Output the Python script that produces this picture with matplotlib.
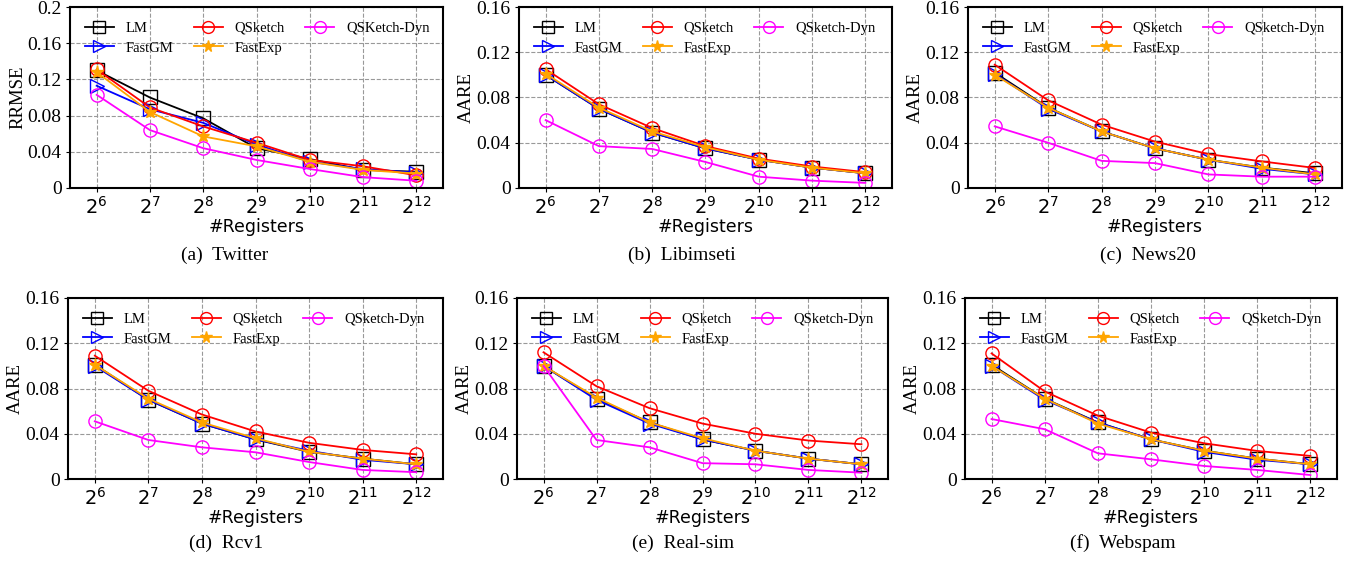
import numpy as np
import matplotlib
matplotlib.use('Agg')
import matplotlib.pyplot as plt
from matplotlib.ticker import FuncFormatter

plt.rcParams['font.family'] = ['Liberation Serif', 'DejaVu Serif']
plt.rcParams['mathtext.fontset'] = 'dejavusans'

# --- data ---
registers = [6, 7, 8, 9, 10, 11, 12]   # log2 of #registers
xtick_labels = ['$2^{%d}$' % r for r in registers]

methods = ['LM', 'FastGM', 'QSketch', 'FastExp', 'QSketch-Dyn']
dataset_names = ['Twitter', 'Libimseti', 'News20', 'Rcv1', 'Real-sim', 'Webspam']
captions = ['(a)  Twitter', '(b)  Libimseti', '(c)  News20',
            '(d)  Rcv1', '(e)  Real-sim', '(f)  Webspam']
ylabels = ['RRMSE', 'AARE', 'AARE', 'AARE', 'AARE', 'AARE']
ymax = [0.2, 0.16, 0.16, 0.16, 0.16, 0.16]

twitter_lm      = [0.130, 0.100, 0.077, 0.044, 0.032, 0.020, 0.018]
twitter_fastgm  = [0.113, 0.087, 0.072, 0.048, 0.029, 0.021, 0.017]
twitter_qsketch = [0.131, 0.089, 0.068, 0.050, 0.031, 0.024, 0.014]
twitter_fastexp = [0.128, 0.084, 0.057, 0.046, 0.029, 0.020, 0.016]
twitter_dyn     = [0.103, 0.064, 0.044, 0.031, 0.021, 0.012, 0.008]

libim_lm      = [0.100, 0.070, 0.049, 0.035, 0.025, 0.018, 0.013]
libim_fastgm  = [0.100, 0.070, 0.049, 0.035, 0.025, 0.018, 0.013]
libim_qsketch = [0.105, 0.074, 0.053, 0.037, 0.026, 0.019, 0.014]
libim_fastexp = [0.101, 0.071, 0.050, 0.036, 0.025, 0.018, 0.013]
libim_dyn     = [0.060, 0.037, 0.0345, 0.023, 0.010, 0.0065, 0.0045]

news_lm      = [0.102, 0.071, 0.050, 0.035, 0.025, 0.018, 0.013]
news_fastgm  = [0.101, 0.070, 0.050, 0.035, 0.025, 0.017, 0.012]
news_qsketch = [0.109, 0.0775, 0.056, 0.041, 0.030, 0.0235, 0.0177]
news_fastexp = [0.100, 0.071, 0.050, 0.035, 0.025, 0.018, 0.012]
news_dyn     = [0.0545, 0.040, 0.024, 0.022, 0.012, 0.010, 0.010]

rcv_lm      = [0.101, 0.070, 0.049, 0.035, 0.024, 0.018, 0.013]
rcv_fastgm  = [0.100, 0.070, 0.049, 0.035, 0.025, 0.017, 0.013]
rcv_qsketch = [0.109, 0.078, 0.057, 0.042, 0.032, 0.0257, 0.0218]
rcv_fastexp = [0.101, 0.071, 0.050, 0.036, 0.024, 0.018, 0.013]
rcv_dyn     = [0.051, 0.0345, 0.028, 0.0236, 0.015, 0.008, 0.006]

realsim_lm      = [0.100, 0.071, 0.050, 0.035, 0.025, 0.018, 0.013]
realsim_fastgm  = [0.100, 0.070, 0.049, 0.035, 0.025, 0.018, 0.013]
realsim_qsketch = [0.112, 0.082, 0.0626, 0.049, 0.040, 0.034, 0.0307]
realsim_fastexp = [0.100, 0.072, 0.050, 0.036, 0.025, 0.018, 0.013]
realsim_dyn     = [0.100, 0.0345, 0.028, 0.014, 0.013, 0.008, 0.0056]

webspam_lm      = [0.101, 0.071, 0.050, 0.035, 0.025, 0.018, 0.013]
webspam_fastgm  = [0.100, 0.070, 0.050, 0.035, 0.024, 0.017, 0.013]
webspam_qsketch = [0.111, 0.0774, 0.056, 0.041, 0.0316, 0.0248, 0.0204]
webspam_fastexp = [0.100, 0.071, 0.049, 0.035, 0.025, 0.018, 0.013]
webspam_dyn     = [0.053, 0.044, 0.0227, 0.0174, 0.0115, 0.008, 0.0035]

all_data = [
    [twitter_lm, twitter_fastgm, twitter_qsketch, twitter_fastexp, twitter_dyn],
    [libim_lm, libim_fastgm, libim_qsketch, libim_fastexp, libim_dyn],
    [news_lm, news_fastgm, news_qsketch, news_fastexp, news_dyn],
    [rcv_lm, rcv_fastgm, rcv_qsketch, rcv_fastexp, rcv_dyn],
    [realsim_lm, realsim_fastgm, realsim_qsketch, realsim_fastexp, realsim_dyn],
    [webspam_lm, webspam_fastgm, webspam_qsketch, webspam_fastexp, webspam_dyn],
]

# --- styles ---
styles = [
    dict(color='black', marker='s', mfc='none', ms=9.5),
    dict(color='#0000ff', marker='>', mfc='none', ms=9.5),
    dict(color='#ff0000', marker='o', mfc='none', ms=9.5),
    dict(color='#ffa500', marker='*', mfc='#ffa500', ms=9.5),
    dict(color='#ff00ff', marker='o', mfc='none', ms=9.5),
]

W, H = 1357, 564
fig = plt.figure(figsize=(W / 100, H / 100), dpi=100)

# axes boxes in pixels: left, top, right, bottom
boxes = [(70, 7, 443, 188), (519, 7, 892, 188), (968, 7, 1342, 188),
         (68, 298, 443, 479), (517, 298, 888, 479), (965, 298, 1337, 479)]
caption_pos = [(225, 255), (682, 255), (1148, 255),
               (226, 543), (683, 543), (1123, 543)]

x = np.arange(len(registers))
for i, (l, t, r, b) in enumerate(boxes):
    ax = fig.add_axes([l / W, 1 - b / H, (r - l) / W, (b - t) / H])
    labels = list(methods)
    if i == 0:
        labels[4] = 'QSKetch-Dyn'
    for vals, st, lab in zip(all_data[i], styles, labels):
        ax.plot(x, vals, color=st['color'], marker=st['marker'],
                markerfacecolor=st['mfc'], markeredgecolor=st['color'],
                markersize=st['ms'], linewidth=1.3, label=lab)
    ax.set_xlim(-0.5, 6.5)
    ax.set_ylim(0, ymax[i])
    ax.set_yticks(np.arange(0, ymax[i] + 1e-9, 0.04))
    ax.yaxis.set_major_formatter(FuncFormatter(lambda v, p: '%g' % round(v, 3)))
    ax.set_xticks(x)
    ax.set_xticklabels(xtick_labels, fontsize=14)
    ax.tick_params(axis='y', labelsize=14, length=3, pad=3)
    ax.tick_params(axis='x', length=3, pad=3)
    ax.grid(True, linestyle='--', color='#999999', linewidth=0.8)
    for sp in ax.spines.values():
        sp.set_linewidth(1.5)
    ax.set_ylabel(ylabels[i], fontsize=13.5, labelpad=1)
    ax.set_xlabel('#Registers', fontsize=12.5, family='DejaVu Sans', labelpad=0)
    ax.legend(ncol=3, loc='upper left', bbox_to_anchor=(0, 1), frameon=False,
              fontsize=10.5, handlelength=2.0, handletextpad=0.8,
              columnspacing=1.4, borderaxespad=0.6, labelspacing=0.45,
              markerscale=0.9)
    cx, cy = caption_pos[i]
    fig.text(cx / W, 1 - cy / H, captions[i], fontsize=14,
             ha='center', va='center')

fig.savefig('out.png', dpi=100)
